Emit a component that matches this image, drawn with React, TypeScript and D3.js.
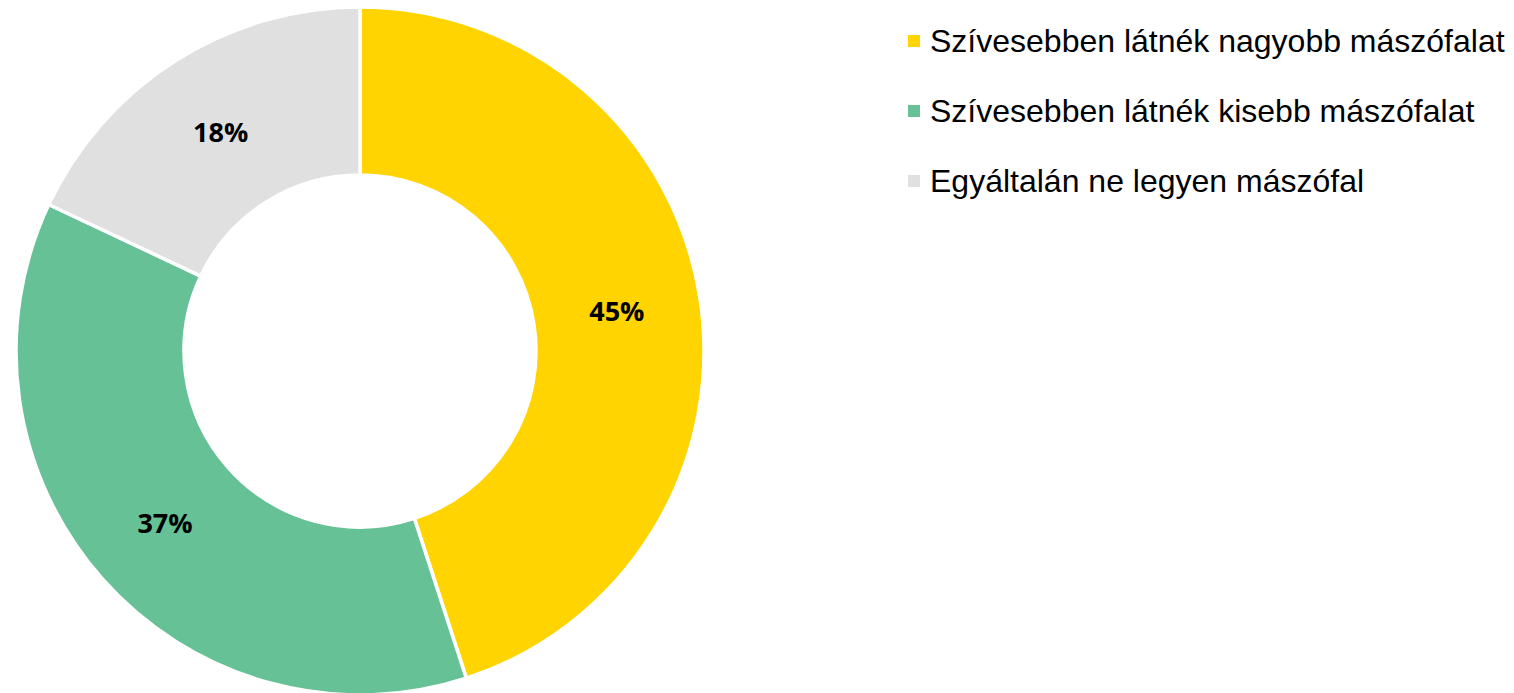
import React from "react";
import * as d3 from "d3";

const categories = [
  "Szívesebben látnék nagyobb mászófalat",
  "Szívesebben látnék kisebb mászófalat",
  "Egyáltalán ne legyen mászófal",
];
const values = [45, 37, 18];
const colors = ["#FFD400", "#66C296", "#E0E0E0"];

export default function App() {
  const W = 1514, H = 693;
  const cx = 360, cy = 351, R = 344, r = 176;
  const pie = d3.pie<number>().sort(null).value((d) => d);
  const arcs = pie(values);
  const arc = d3.arc<d3.PieArcDatum<number>>().innerRadius(r).outerRadius(R);
  const total = d3.sum(values);
  return (
    <svg width={W} height={H} style={{ position: "absolute", left: 0, top: 0 }}>
      <rect width={W} height={H} fill="#fff" />
      <g transform={`translate(${cx},${cy})`}>
        {arcs.map((a, i) => (
          <path key={i} d={arc(a) || ""} fill={colors[i]} stroke="#fff" strokeWidth={3.5} strokeLinejoin="miter" />
        ))}
        {arcs.map((a, i) => {
          const [x, y] = arc.centroid(a);
          return (
            <text key={"l" + i} x={x} y={y} textAnchor="middle" dominantBaseline="central"
              fontFamily="'Open Sans', sans-serif" fontWeight={700} fontSize={27} fill="#000">
              {Math.round((values[i] / total) * 100) + "%"}
            </text>
          );
        })}
      </g>
      <g>
        {categories.map((c, i) => (
          <g key={c} transform={`translate(908,${52 + i * 70})`}>
            <rect x={0} y={-17} width={12} height={12} fill={colors[i]} />
            <text x={22} y={0} fontFamily="'Liberation Sans', Arial, sans-serif"
              fontSize={32} fill="#000">{c}</text>
          </g>
        ))}
      </g>
    </svg>
  );
}
